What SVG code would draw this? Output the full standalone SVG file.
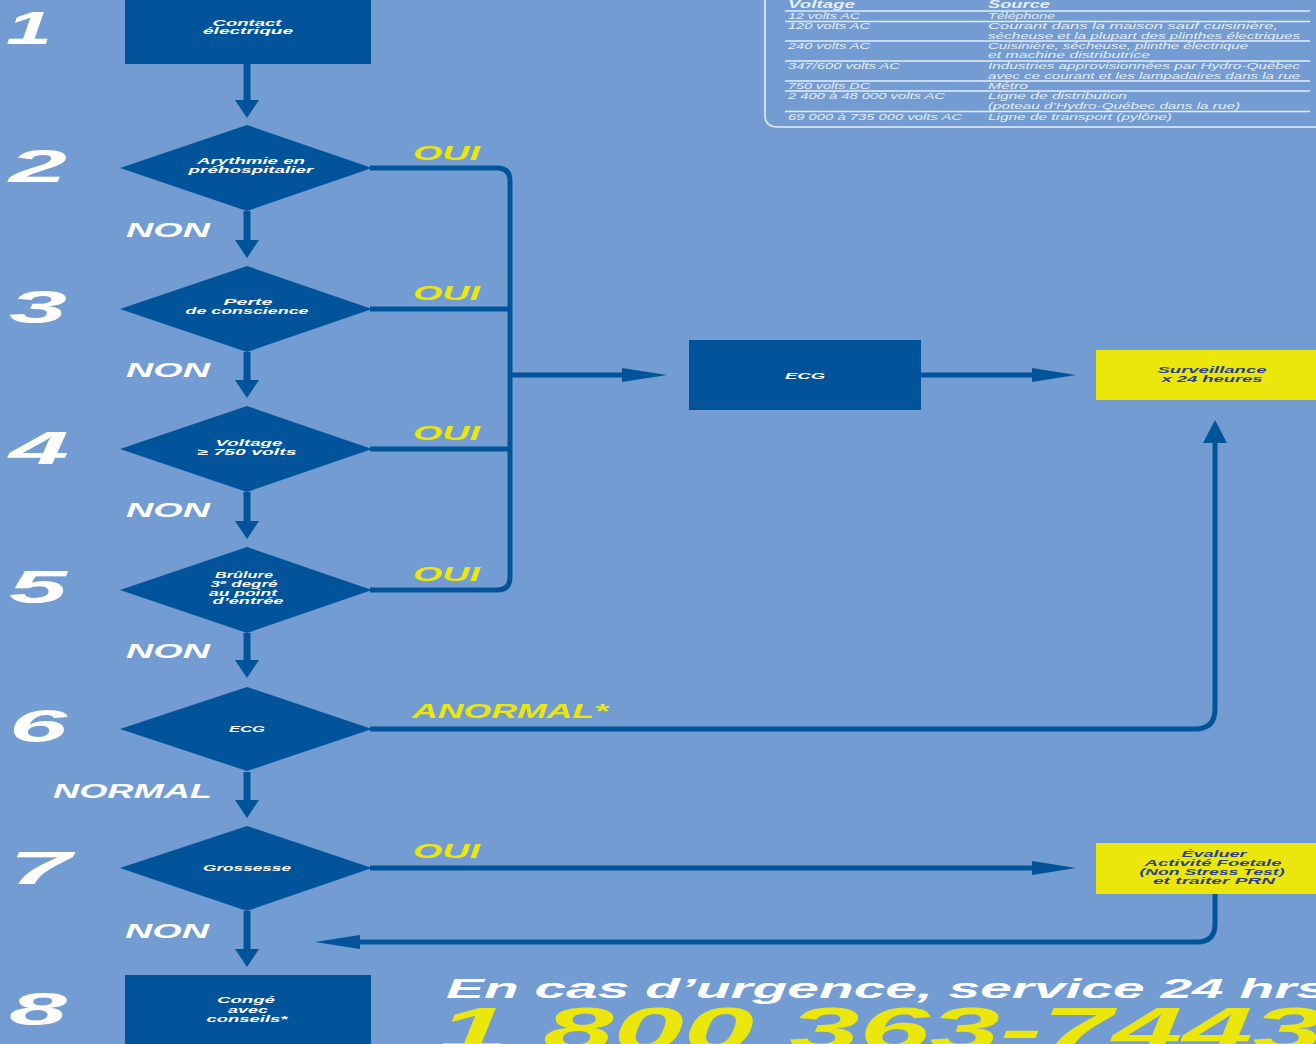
<svg xmlns="http://www.w3.org/2000/svg" width="1316" height="1044" viewBox="0 0 1316 1044">
<style>
.bg{fill:#729cd2}
.node{fill:#02549a}
.yel{fill:#ebe70c}
.nt{font-family:"Liberation Sans",Arial,sans-serif;font-weight:bold;font-style:italic;font-size:8.5px;fill:#ffffff;text-anchor:middle}
.yt{font-family:"Liberation Sans",Arial,sans-serif;font-weight:bold;font-style:italic;font-size:8.5px;fill:#2c3f8c;text-anchor:middle}
.num{font-family:"Liberation Sans",Arial,sans-serif;font-weight:bold;font-style:italic;font-size:47px;fill:#ffffff}
.lbl{font-family:"Liberation Sans",Arial,sans-serif;font-weight:bold;font-style:italic;font-size:19.5px}
.w{fill:#ffffff}
.y{fill:#ebe70c}
.tb{font-family:"Liberation Sans",Arial,sans-serif;font-style:italic;font-size:8.5px;fill:#e6edf8}
.th{font-family:"Liberation Sans",Arial,sans-serif;font-weight:bold;font-style:italic;font-size:10px;fill:#e6edf8}
.tl{stroke:#e6edf8;stroke-width:1.6;fill:none}
.c{stroke:#02549a;stroke-width:5;fill:none}
.cv{stroke:#02549a;stroke-width:7;fill:none}
.ah{fill:#02549a}
.big{font-family:"Liberation Sans",Arial,sans-serif;font-weight:bold;font-style:italic}
</style>
<rect class="bg" x="0" y="0" width="1316" height="1044"/>

<g id="table">
<path class="tl" d="M765 0 V115 Q765 127 778 127 H1316"/>
<text class="th" x="788" y="8" textLength="67" lengthAdjust="spacingAndGlyphs">Voltage</text>
<text class="th" x="988" y="8" textLength="62" lengthAdjust="spacingAndGlyphs">Source</text>
<line class="tl" x1="785" y1="11" x2="1310" y2="11"/>
<text class="tb" x="788" y="18.5" textLength="72" lengthAdjust="spacingAndGlyphs">12 volts AC</text>
<text class="tb" x="988" y="18.5" textLength="67" lengthAdjust="spacingAndGlyphs">Téléphone</text>
<line class="tl" x1="785" y1="21.5" x2="1310" y2="21.5"/>
<text class="tb" x="788" y="29" textLength="82" lengthAdjust="spacingAndGlyphs">120 volts AC</text>
<text class="tb" x="988" y="29" textLength="290" lengthAdjust="spacingAndGlyphs">Courant dans la maison sauf cuisinière,</text>
<text class="tb" x="988" y="38.5" textLength="312" lengthAdjust="spacingAndGlyphs">sécheuse et la plupart des plinthes électriques</text>
<line class="tl" x1="785" y1="41" x2="1310" y2="41"/>
<text class="tb" x="788" y="48.5" textLength="82" lengthAdjust="spacingAndGlyphs">240 volts AC</text>
<text class="tb" x="988" y="48.5" textLength="260" lengthAdjust="spacingAndGlyphs">Cuisinière, sécheuse, plinthe électrique</text>
<text class="tb" x="988" y="58" textLength="162" lengthAdjust="spacingAndGlyphs">et machine distributrice</text>
<line class="tl" x1="785" y1="61" x2="1310" y2="61"/>
<text class="tb" x="788" y="68.5" textLength="112" lengthAdjust="spacingAndGlyphs">347/600 volts AC</text>
<text class="tb" x="988" y="68.5" textLength="312" lengthAdjust="spacingAndGlyphs">Industries approvisionnées par Hydro-Québec</text>
<text class="tb" x="988" y="78.5" textLength="312" lengthAdjust="spacingAndGlyphs">avec ce courant et les lampadaires dans la rue</text>
<line class="tl" x1="785" y1="81" x2="1310" y2="81"/>
<text class="tb" x="788" y="88.5" textLength="82" lengthAdjust="spacingAndGlyphs">750 volts DC</text>
<text class="tb" x="988" y="88.5" textLength="40" lengthAdjust="spacingAndGlyphs">Métro</text>
<line class="tl" x1="785" y1="91" x2="1310" y2="91"/>
<text class="tb" x="788" y="98.5" textLength="157" lengthAdjust="spacingAndGlyphs">2 400 à 48 000 volts AC</text>
<text class="tb" x="988" y="98.5" textLength="139" lengthAdjust="spacingAndGlyphs">Ligne de distribution</text>
<text class="tb" x="988" y="108.5" textLength="252" lengthAdjust="spacingAndGlyphs">(poteau d’Hydro-Québec dans la rue)</text>
<line class="tl" x1="785" y1="111.5" x2="1310" y2="111.5"/>
<text class="tb" x="788" y="119.5" textLength="174" lengthAdjust="spacingAndGlyphs">69 000 à 735 000 volts AC</text>
<text class="tb" x="988" y="119.5" textLength="184" lengthAdjust="spacingAndGlyphs">Ligne de transport (pylône)</text>
</g>

<g id="connectors">
<line class="cv" x1="247" y1="64" x2="247" y2="102"/>
<polygon class="ah" points="235,100 259,100 247,118"/>
<line class="cv" x1="247" y1="211" x2="247" y2="242"/>
<polygon class="ah" points="235,240 259,240 247,258"/>
<line class="cv" x1="247" y1="352" x2="247" y2="382"/>
<polygon class="ah" points="235,380 259,380 247,398"/>
<line class="cv" x1="247" y1="492" x2="247" y2="523"/>
<polygon class="ah" points="235,521 259,521 247,539"/>
<line class="cv" x1="247" y1="633" x2="247" y2="662"/>
<polygon class="ah" points="235,660 259,660 247,678"/>
<line class="cv" x1="247" y1="772" x2="247" y2="802"/>
<polygon class="ah" points="235,800 259,800 247,818"/>
<line class="cv" x1="247" y1="911" x2="247" y2="951"/>
<polygon class="ah" points="235,949 259,949 247,967"/>
<path class="c" d="M370 168 H497 Q510 168 510 181 V577 Q510 590 497 590 H370"/>
<line class="c" x1="370" y1="309" x2="510" y2="309"/>
<line class="c" x1="370" y1="449" x2="510" y2="449"/>
<line class="c" x1="510" y1="375" x2="630" y2="375"/>
<polygon class="ah" points="622,368 622,382 667,375"/>
<line class="c" x1="921" y1="375" x2="1040" y2="375"/>
<polygon class="ah" points="1032,368 1032,382 1076,375"/>
<path class="c" d="M370 729 H1195 Q1215 729 1215 709 V436"/>
<polygon class="ah" points="1203,443 1227,443 1215,420"/>
<line class="c" x1="370" y1="868" x2="1040" y2="868"/>
<polygon class="ah" points="1032,861 1032,875 1076,868"/>
<path class="c" d="M1215 893 V924 Q1215 942 1197 942 H350"/>
<polygon class="ah" points="360,935 360,949 315,942"/>
</g>

<g id="n1"><rect class="node" x="125" y="-5" width="246" height="69"/>
<text class="nt" x="247" y="26" textLength="69" lengthAdjust="spacingAndGlyphs">Contact</text>
<text class="nt" x="248" y="34" textLength="90" lengthAdjust="spacingAndGlyphs">électrique</text></g>

<g id="n2"><path class="node" d="M120 168 L247 125 L372 168 L247 211 Z"/>
<text class="nt" x="251" y="164" textLength="108" lengthAdjust="spacingAndGlyphs">Arythmie en</text>
<text class="nt" x="251" y="173" textLength="125" lengthAdjust="spacingAndGlyphs">préhospitalier</text></g>

<g id="n3"><path class="node" d="M120 309 L247 266 L372 309 L247 352 Z"/>
<text class="nt" x="248" y="305" textLength="49" lengthAdjust="spacingAndGlyphs">Perte</text>
<text class="nt" x="247" y="314" textLength="123" lengthAdjust="spacingAndGlyphs">de conscience</text></g>

<g id="n4"><path class="node" d="M120 449 L247 406 L372 449 L247 492 Z"/>
<text class="nt" x="249" y="446" textLength="67" lengthAdjust="spacingAndGlyphs">Voltage</text>
<text class="nt" x="247" y="455" textLength="99" lengthAdjust="spacingAndGlyphs">≥ 750 volts</text></g>

<g id="n5"><path class="node" d="M120 590 L247 547 L372 590 L247 633 Z"/>
<text class="nt" x="244" y="578" textLength="58" lengthAdjust="spacingAndGlyphs">Brûlure</text>
<text class="nt" x="244" y="587" textLength="67" lengthAdjust="spacingAndGlyphs">3<tspan font-size="6" dy="-3">e</tspan><tspan dy="3"> degré</tspan></text>
<text class="nt" x="243" y="596" textLength="68" lengthAdjust="spacingAndGlyphs">au point</text>
<text class="nt" x="248" y="604" textLength="71" lengthAdjust="spacingAndGlyphs">d’entrée</text></g>

<g id="n6"><path class="node" d="M120 729 L247 687 L372 729 L247 771 Z"/>
<text class="nt" x="247" y="732" textLength="36" lengthAdjust="spacingAndGlyphs">ECG</text></g>

<g id="n7"><path class="node" d="M120 868 L247 826 L372 868 L247 911 Z"/>
<text class="nt" x="247" y="871" textLength="88" lengthAdjust="spacingAndGlyphs">Grossesse</text></g>

<g id="n8"><rect class="node" x="125" y="975" width="246" height="80"/>
<text class="nt" x="246" y="1003" textLength="58" lengthAdjust="spacingAndGlyphs">Congé</text>
<text class="nt" x="248" y="1013" textLength="40" lengthAdjust="spacingAndGlyphs">avec</text>
<text class="nt" x="247" y="1022" textLength="81" lengthAdjust="spacingAndGlyphs">conseils*</text></g>

<g id="ecg"><rect class="node" x="689" y="340" width="232" height="70"/>
<text class="nt" x="805" y="379" textLength="40" lengthAdjust="spacingAndGlyphs">ECG</text></g>

<g id="surv"><rect class="yel" x="1096" y="350" width="225" height="50"/>
<text class="yt" x="1212" y="373" textLength="109" lengthAdjust="spacingAndGlyphs">Surveillance</text>
<text class="yt" x="1212" y="381.5" textLength="101" lengthAdjust="spacingAndGlyphs">x 24 heures</text></g>

<g id="eval"><rect class="yel" x="1096" y="843" width="225" height="51"/>
<text class="yt" x="1214" y="857" textLength="65" lengthAdjust="spacingAndGlyphs">Évaluer</text>
<text class="yt" x="1213" y="866" textLength="137" lengthAdjust="spacingAndGlyphs">Activité Foetale</text>
<text class="yt" x="1212" y="875" textLength="145" lengthAdjust="spacingAndGlyphs">(Non Stress Test)</text>
<text class="yt" x="1214" y="884" textLength="122" lengthAdjust="spacingAndGlyphs">et traiter PRN</text></g>

<g id="numbers">
<text class="num" x="6" y="44" textLength="46" lengthAdjust="spacingAndGlyphs">1</text>
<text class="num" x="9" y="182" textLength="58" lengthAdjust="spacingAndGlyphs">2</text>
<text class="num" x="9" y="323" textLength="58" lengthAdjust="spacingAndGlyphs">3</text>
<text class="num" x="9" y="464" textLength="60" lengthAdjust="spacingAndGlyphs">4</text>
<text class="num" x="9" y="603" textLength="58" lengthAdjust="spacingAndGlyphs">5</text>
<text class="num" x="9" y="742" textLength="58" lengthAdjust="spacingAndGlyphs">6</text>
<text class="num" x="9" y="884" textLength="62" lengthAdjust="spacingAndGlyphs">7</text>
<text class="num" x="9" y="1025" textLength="58" lengthAdjust="spacingAndGlyphs">8</text>
</g>

<g id="labels">
<text class="lbl y" x="413" y="160" textLength="67" lengthAdjust="spacingAndGlyphs">OUI</text>
<text class="lbl y" x="413" y="300" textLength="67" lengthAdjust="spacingAndGlyphs">OUI</text>
<text class="lbl y" x="413" y="440" textLength="67" lengthAdjust="spacingAndGlyphs">OUI</text>
<text class="lbl y" x="413" y="581" textLength="67" lengthAdjust="spacingAndGlyphs">OUI</text>
<text class="lbl y" x="413" y="858" textLength="67" lengthAdjust="spacingAndGlyphs">OUI</text>
<text class="lbl w" x="126" y="237" textLength="84" lengthAdjust="spacingAndGlyphs">NON</text>
<text class="lbl w" x="126" y="377" textLength="84" lengthAdjust="spacingAndGlyphs">NON</text>
<text class="lbl w" x="126" y="517" textLength="84" lengthAdjust="spacingAndGlyphs">NON</text>
<text class="lbl w" x="126" y="658" textLength="84" lengthAdjust="spacingAndGlyphs">NON</text>
<text class="lbl w" x="125" y="938" textLength="84" lengthAdjust="spacingAndGlyphs">NON</text>
<text class="lbl y" x="412" y="718" textLength="196" lengthAdjust="spacingAndGlyphs">ANORMAL*</text>
<text class="lbl w" x="53" y="798" textLength="159" lengthAdjust="spacingAndGlyphs">NORMAL</text>
</g>

<g id="footer">
<text class="big" x="446" y="998" font-size="28" fill="#ffffff" textLength="882" lengthAdjust="spacingAndGlyphs">En cas d’urgence, service 24 hrs</text>
<text class="big" x="438" y="1050" font-size="62" fill="#ebe70c" textLength="885" lengthAdjust="spacingAndGlyphs">1 800 363-7443</text>
</g>
</svg>
